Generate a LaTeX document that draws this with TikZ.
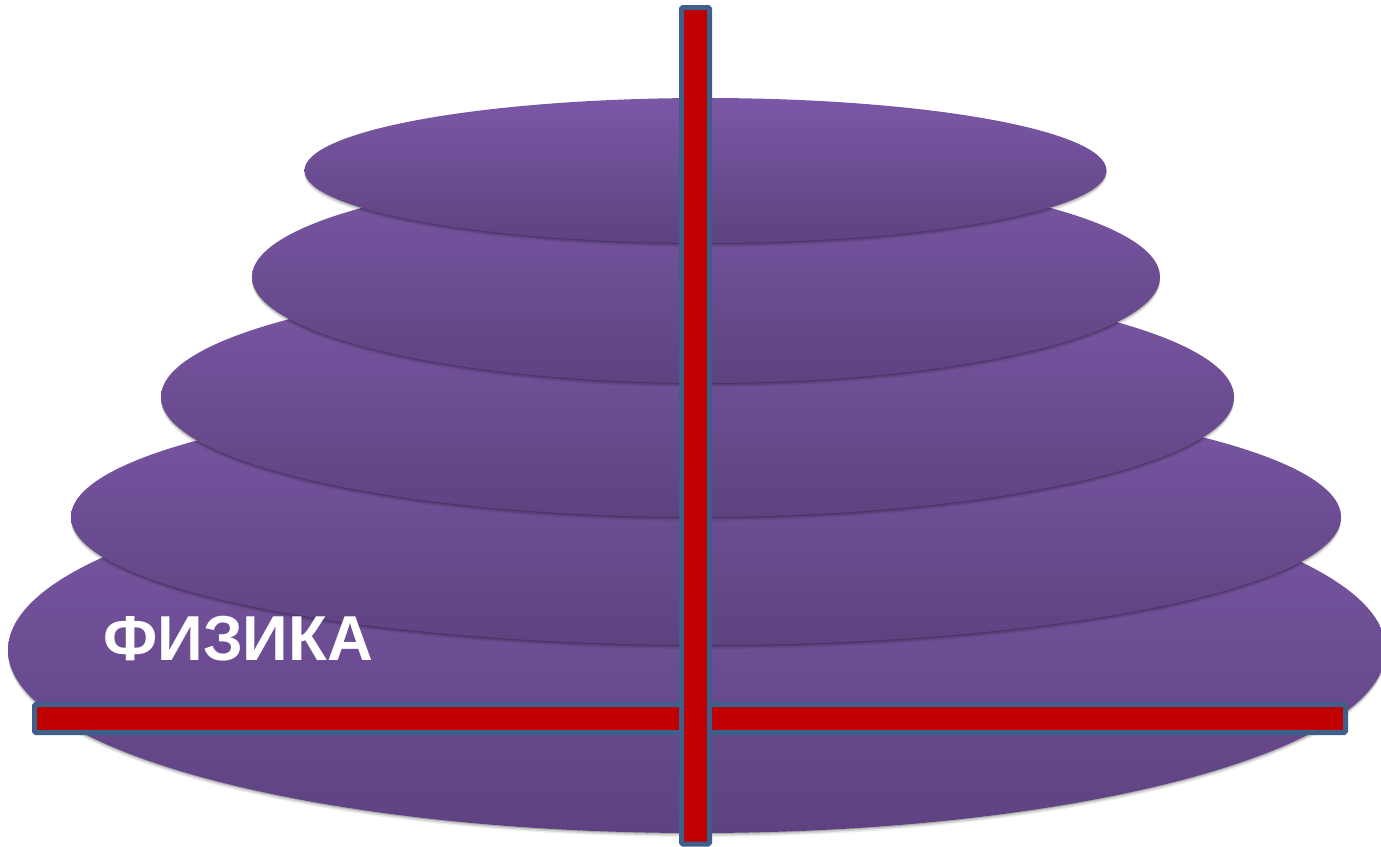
\documentclass[tikz,border=0pt]{standalone}
\usepackage{fontspec}
\setmainfont{Liberation Sans}
\usetikzlibrary{shapes.geometric,shadows}
\definecolor{ptop}{HTML}{7B58A6}
\definecolor{pbot}{HTML}{5E4280}
\definecolor{barred}{HTML}{C00000}
\definecolor{barblue}{HTML}{3D5F8A}
\tikzset{
  disc/.style={ellipse, inner sep=0pt, top color=ptop, bottom color=pbot, draw=none,
    drop shadow={shadow xshift=0pt, shadow yshift=-1pt, opacity=0.16, fill=black},
    drop shadow={shadow xshift=0pt, shadow yshift=-2.5pt, opacity=0.12, fill=black},
    drop shadow={shadow xshift=0pt, shadow yshift=-4pt, opacity=0.07, fill=black}},
  bar/.style={fill=barred, draw=barblue, line width=5pt, rounded corners=1.5pt},
  label/.style={text=white, font=\bfseries\fontsize{63.5}{70}\selectfont, inner sep=0pt}
}
\begin{document}
\begin{tikzpicture}[x=1pt,y=-1pt]
\useasboundingbox (0,0) rectangle (1381,846);
\node[disc, minimum width=1378pt, minimum height=366pt] (e5) at (697,650) {};
\node[disc, minimum width=1270pt, minimum height=256pt] (e4) at (706,517) {};
\node[disc, minimum width=1073pt, minimum height=240pt] (e3) at (697.5,397) {};
\node[disc, minimum width=908pt, minimum height=212pt] (e2) at (706,277) {};
\node[disc, minimum width=802pt, minimum height=145pt] (e1) at (705.5,170.5) {};
\node[label, anchor=base west] (t) at (103,660) {ФИЗИКА};
\draw[bar] (34.5,704.5) rectangle (1345.5,732.5);
\draw[bar] (681.5,7.5) rectangle (709.5,844);
\end{tikzpicture}
\end{document}
